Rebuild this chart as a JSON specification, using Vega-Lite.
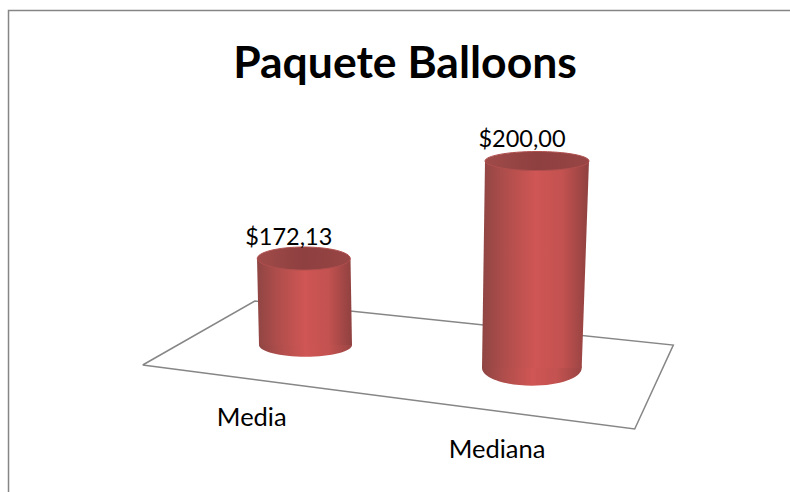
{
  "$schema": "https://vega.github.io/schema/vega-lite/v6.json",
  "width": 790,
  "height": 492,
  "padding": 0,
  "autosize": {"type": "none"},
  "background": "#ffffff",
  "view": {"stroke": null},
  "config": {
    "locale": {"number": {"decimal": ",", "thousands": ".", "grouping": [3], "currency": ["$", ""]}}
  },
  "title": {
    "text": "Paquete Balloons",
    "anchor": "middle",
    "font": "Lato",
    "fontSize": 44.5,
    "fontWeight": "bold",
    "color": "#000000",
    "baseline": "alphabetic",
    "offset": 0,
    "dx": 10,
    "dy": 122
  },
  "resolve": {"scale": {"shape": "independent"}},
  "datasets": {
    "barras": [
      {"categoria": "Media", "indice": 1, "valor": 172.13, "base": 147.4, "indice_base": 1.0075},
      {"categoria": "Mediana", "indice": 2, "valor": 200, "base": 140.83, "indice_base": 1.978}
    ],
    "cuerpos": [
      {"categoria": "Media", "nivel": 172.13, "izq": 0.7996, "der": 1.2004},
      {"categoria": "Media", "nivel": 147.4, "izq": 0.8082, "der": 1.2068},
      {"categoria": "Mediana", "nivel": 200, "izq": 1.7771, "der": 2.2229},
      {"categoria": "Mediana", "nivel": 140.83, "izq": 1.7642, "der": 2.1916}
    ],
    "piso": [
      {"orden": 1, "px": 0.3095, "py": 141.68},
      {"orden": 2, "px": 0.7901, "py": 159.98},
      {"orden": 3, "px": 2.5844, "py": 147.4},
      {"orden": 4, "px": 2.4189, "py": 123.39},
      {"orden": 5, "px": 0.3095, "py": 141.68}
    ],
    "marco": [
      {"orden": 1, "px": -0.2658, "py": 105.38},
      {"orden": 2, "px": -0.2658, "py": 243.03},
      {"orden": 3, "px": 3.0847, "py": 243.03}
    ]
  },
  "data": {"name": "barras"},
  "layer": [
    {
      "data": {"name": "marco"},
      "mark": {"type": "line", "color": "#868686", "strokeWidth": 1.5},
      "encoding": {
        "x": {"field": "px", "type": "quantitative", "scale": {"domain": [-0.3023, 3.0847], "nice": false, "zero": false}, "axis": null},
        "y": {"field": "py", "type": "quantitative", "scale": {"domain": [105.38, 246.03], "nice": false, "zero": false}, "axis": null},
        "order": {"field": "orden"}
      }
    },
    {
      "data": {"name": "piso"},
      "mark": {"type": "line", "color": "#868686", "strokeWidth": 1.5},
      "encoding": {
        "x": {"field": "px", "type": "quantitative"},
        "y": {"field": "py", "type": "quantitative"},
        "order": {"field": "orden"}
      }
    },
    {
      "mark": {
        "type": "point",
        "filled": true,
        "size": 4,
        "opacity": 1,
        "fill": {
          "gradient": "linear", "x1": 0, "y1": 0, "x2": 1, "y2": 0,
          "stops": [
            {"offset": 0, "color": "#8f4543"},
            {"offset": 0.2, "color": "#ad4d4b"},
            {"offset": 0.5, "color": "#cf5654"},
            {"offset": 0.75, "color": "#c35250"},
            {"offset": 1, "color": "#9a4544"}
          ]
        }
      },
      "encoding": {
        "x": {"field": "indice_base", "type": "quantitative"},
        "y": {"field": "base", "type": "quantitative"},
        "shape": {
          "field": "categoria",
          "type": "nominal",
          "legend": null,
          "scale": {
            "domain": ["Media", "Mediana"],
            "range": [
              "M-46.5,0A46.5,11.7 0 1,0 46.5,0A46.5,11.7 0 1,0 -46.5,0Z",
              "M-49.85,0A49.85,17.7 0 1,0 49.85,0A49.85,17.7 0 1,0 -49.85,0Z"
            ]
          }
        }
      }
    },
    {
      "data": {"name": "cuerpos"},
      "mark": {
        "type": "area",
        "orient": "horizontal",
        "fill": {
          "gradient": "linear", "x1": 0, "y1": 0, "x2": 1, "y2": 0,
          "stops": [
            {"offset": 0, "color": "#8f4543"},
            {"offset": 0.2, "color": "#ad4d4b"},
            {"offset": 0.5, "color": "#cf5654"},
            {"offset": 0.75, "color": "#c35250"},
            {"offset": 1, "color": "#8f4140"}
          ]
        }
      },
      "encoding": {
        "y": {"field": "nivel", "type": "quantitative"},
        "x": {"field": "izq", "type": "quantitative"},
        "x2": {"field": "der"},
        "detail": {"field": "categoria"}
      }
    },
    {
      "mark": {
        "type": "point",
        "filled": true,
        "size": 4,
        "opacity": 1,
        "stroke": "#b04f4e",
        "strokeWidth": 1,
        "fill": {
          "gradient": "linear", "x1": 0, "y1": 0, "x2": 1, "y2": 0,
          "stops": [
            {"offset": 0, "color": "#a04b4a"},
            {"offset": 0.5, "color": "#8e3f3f"},
            {"offset": 1, "color": "#984545"}
          ]
        }
      },
      "encoding": {
        "x": {"field": "indice", "type": "quantitative"},
        "y": {"field": "valor", "type": "quantitative"},
        "shape": {
          "field": "categoria",
          "type": "nominal",
          "legend": null,
          "scale": {
            "domain": ["Media", "Mediana"],
            "range": [
              "M-46.5,0A46.5,11.5 0 1,0 46.5,0A46.5,11.5 0 1,0 -46.5,0Z",
              "M-52,0A52,9.5 0 1,0 52,0A52,9.5 0 1,0 -52,0Z"
            ]
          }
        }
      }
    },
    {
      "mark": {"type": "text", "font": "Lato", "fontSize": 23.5, "color": "#000000", "dx": -15, "dy": -14, "baseline": "alphabetic"},
      "encoding": {
        "x": {"field": "indice", "type": "quantitative"},
        "y": {"field": "valor", "type": "quantitative"},
        "text": {"field": "valor", "type": "quantitative", "format": "$.2f"}
      }
    },
    {
      "transform": [{"filter": "datum.categoria === 'Media'"}],
      "mark": {"type": "text", "font": "Lato", "fontSize": 25.5, "color": "#000000", "dx": -52, "dy": 81, "baseline": "alphabetic"},
      "encoding": {
        "x": {"field": "indice", "type": "quantitative"},
        "y": {"field": "base", "type": "quantitative"},
        "text": {"field": "categoria", "type": "nominal"}
      }
    },
    {
      "transform": [{"filter": "datum.categoria === 'Mediana'"}],
      "mark": {"type": "text", "font": "Lato", "fontSize": 25.5, "color": "#000000", "dx": -40, "dy": 90, "baseline": "alphabetic"},
      "encoding": {
        "x": {"field": "indice", "type": "quantitative"},
        "y": {"field": "base", "type": "quantitative"},
        "text": {"field": "categoria", "type": "nominal"}
      }
    }
  ]
}
